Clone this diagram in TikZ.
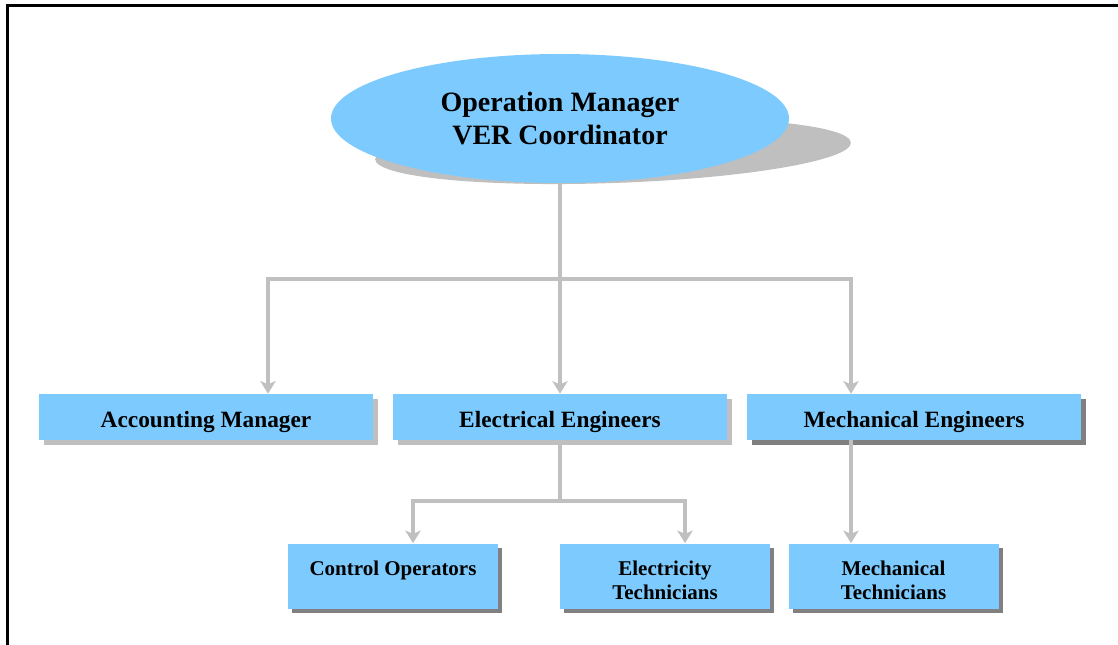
\documentclass[tikz,border=0pt]{standalone}
\usepackage{fontspec}
\setmainfont{Liberation Serif}
\usepackage{tikz}
\usetikzlibrary{arrows.meta,positioning,shapes,shadows,calc}
\definecolor{boxblue}{RGB}{125,203,254}
\definecolor{shadelight}{RGB}{191,191,191}
\definecolor{shadedark}{RGB}{128,128,128}
\definecolor{linegray}{RGB}{192,192,192}

\begin{document}
\begin{tikzpicture}[
  x=0.75pt, y=-0.75pt,
  head/.style={ellipse, fill=boxblue,
    minimum width=343.5pt, minimum height=96.75pt,
    inner sep=0pt, align=center,
    font=\fontsize{21}{24.75}\selectfont\bfseries},
  dept/.style={rectangle, fill=boxblue,
    minimum width=250.5pt, minimum height=34.5pt,
    inner sep=0pt, text centered,
    text height=15.3pt, text depth=0pt,
    font=\fontsize{17.5}{21}\selectfont\bfseries,
    drop shadow={shadow xshift=3.75pt, shadow yshift=-3.75pt,
      fill=shadelight, opacity=1}},
  deptdark/.style={dept,
    drop shadow={shadow xshift=3.75pt, shadow yshift=-3.75pt,
      fill=shadedark, opacity=1}},
  team/.style={rectangle, fill=boxblue,
    minimum width=157.5pt, minimum height=48.75pt,
    inner sep=0pt, align=center,
    text height=34.5pt, text depth=0pt,
    font=\fontsize{15.75}{18}\selectfont\bfseries,
    drop shadow={shadow xshift=3pt, shadow yshift=-3pt,
      fill=shadedark, opacity=1}},
  teamone/.style={team, text height=12pt, text depth=13.5pt},
  link/.style={line width=3.5pt, draw=linegray},
  arrow/.style={link, -{Stealth[width=11.5pt, length=9.5pt, inset=2.5pt]}}
]
\useasboundingbox (0,0) rectangle (1118,645);

% Frame
\draw[line width=2.25pt] (7.5,645) -- (7.5,5.5) -- (1118,5.5);

% Nodes
\fill[shadelight, rotate around={2:(613,151)}] (613,151)
  ellipse [x radius=178.5pt, y radius=24pt];
\node[head] (boss) at (560,118.5) {Operation Manager\\VER Coordinator};

\node[dept] (acct) at (206,417) {Accounting Manager};
\node[dept] (elec) at (560,417) {Electrical Engineers};
\node[deptdark] (mech) at (914,417) {Mechanical Engineers};

\node[teamone] (ctrl) at (393,576) {Control Operators};
\node[team] (etech) at (665,576) {Electricity\\Technicians};
\node[team] (mtech) at (893.5,576) {Mechanical\\Technicians};

\coordinate (split1) at (560,279);
\coordinate (split2) at (560,501);

% Arrows
\draw[link] (boss.south) -- (split1);
\draw[arrow] (split1) -| ([xshift=46.5pt]acct.north);
\draw[arrow] (split1) -- (elec.north);
\draw[arrow] (split1) -| ([xshift=-47.25pt]mech.north);

\draw[link] (elec.south) -- (split2);
\draw[arrow] (split2) -| ([xshift=15pt]ctrl.north);
\draw[arrow] (split2) -| ([xshift=15pt]etech.north);
\draw[arrow] ([xshift=-47.25pt]mech.south) -- ([xshift=-47.25pt]mech.south |- mtech.north);
\end{tikzpicture}
\end{document}
